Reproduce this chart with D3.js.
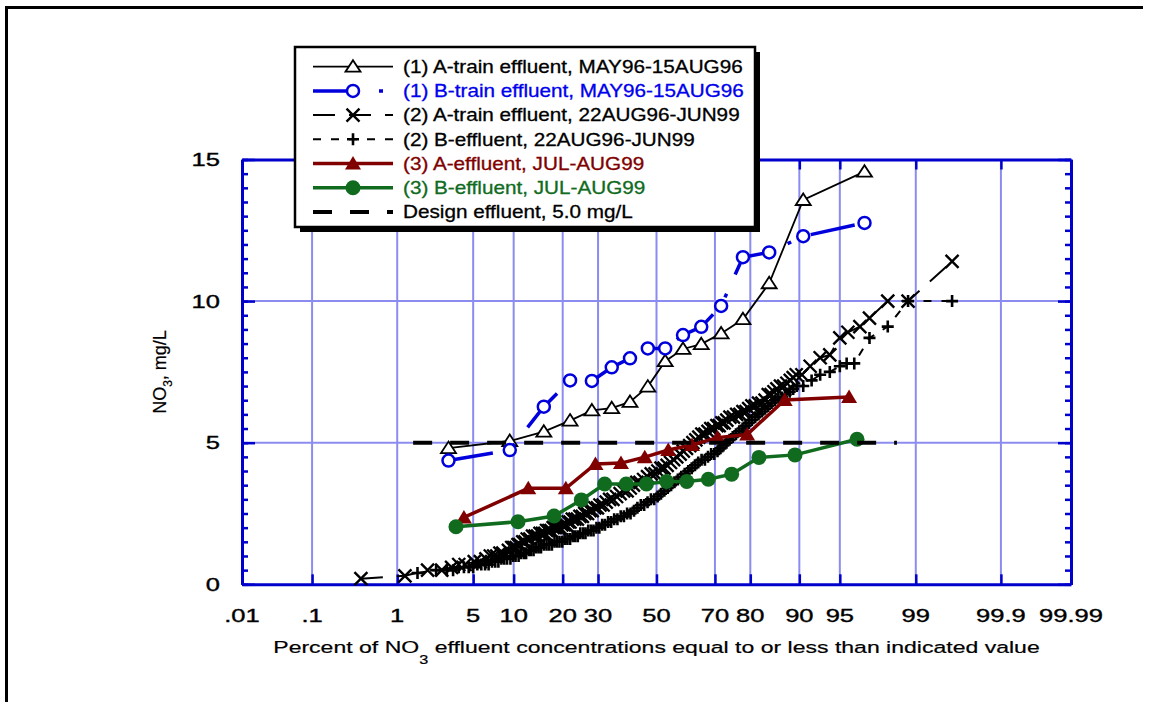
<!DOCTYPE html>
<html>
<head>
<meta charset="utf-8">
<script src="https://cdn.jsdelivr.net/npm/d3@7"></script>
<style>
  body { margin: 0; background: #fff; }
  text { font-family: "Liberation Sans", Arial, sans-serif; }
</style>
</head>
<body>
<div id="chart"></div>
<script>
// ---- data ----
var xTickValues = [0.01, 0.1, 1, 5, 10, 20, 30, 50, 70, 80, 90, 95, 99, 99.9, 99.99];
var xTickLabels = [".01", ".1", "1", "5", "10", "20", "30", "50", "70", "80", "90", "95", "99", "99.9", "99.99"];
var yTickValues = [0, 5, 10, 15];

// (1) A-train effluent, MAY96-15AUG96
var aTrain1Pct = [3.1, 9.4, 15.6, 21.9, 28.1, 34.4, 40.6, 46.9, 53.1, 59.4, 65.6, 71.9, 78.1, 84.4, 90.6, 96.9];
var aTrain1Val = [4.81, 5.06, 5.39, 5.78, 6.14, 6.22, 6.44, 6.98, 7.88, 8.31, 8.48, 8.86, 9.36, 10.63, 13.57, 14.57];

// (1) B-train effluent, MAY96-15AUG96
var bTrain1Pct = [3.1, 9.4, 15.6, 21.9, 28.1, 34.4, 40.6, 46.9, 53.1, 59.4, 65.6, 71.9, 78.1, 84.4, 90.6, 96.9];
var bTrain1Val = [4.37, 4.74, 6.27, 7.2, 7.18, 7.66, 7.98, 8.33, 8.33, 8.8, 9.09, 9.83, 11.55, 11.72, 12.29, 12.76];

// (2) A-train effluent, 22AUG96-JUN99
var aTrain2Pct = [
  0.4, 1.2, 2.0, 2.7, 3.3, 3.8, 4.3, 5.1, 5.7, 6.3,
  6.8, 7.2, 7.6, 8.0, 8.4, 9.2, 9.7, 10.0, 10.4, 10.7,
  11.0, 11.5, 11.9, 12.3, 12.8, 13.3, 13.8, 14.3, 14.8, 15.3,
  15.8, 16.2, 16.7, 17.2, 17.7, 18.2, 18.8, 19.3, 19.8, 20.4,
  20.9, 21.4, 21.9, 22.5, 23.2, 23.9, 24.6, 25.3, 26.0, 26.8,
  27.5, 28.2, 29.0, 29.8, 30.6, 31.6, 32.6, 33.7, 34.8, 36.0,
  37.2, 38.4, 39.6, 40.7, 41.8, 43.0, 44.1, 45.4, 46.8, 48.1,
  49.5, 50.5, 51.6, 52.7, 53.8, 55.0, 56.1, 57.2, 58.4, 59.5,
  60.6, 61.7, 62.8, 63.8, 64.8, 65.8, 66.8, 67.8, 68.7, 69.6,
  70.6, 71.3, 72.1, 72.8, 73.6, 74.5, 75.5, 76.4, 77.3, 78.1,
  78.9, 79.6, 80.4, 81.2, 82.0, 82.8, 83.5, 84.2, 84.8, 85.4,
  86.0, 86.7, 87.3, 87.9, 88.5, 89.0, 89.5, 90.4, 91.6, 92.9,
  94.0, 95.0, 95.7, 96.6, 97.2, 98.1, 98.8, 99.6];
var aTrain2Val = [
  0.2, 0.3, 0.5, 0.5, 0.6, 0.7, 0.7, 0.8, 0.8, 0.9,
  1.0, 1.0, 1.0, 1.1, 1.1, 1.2, 1.3, 1.3, 1.3, 1.4,
  1.4, 1.5, 1.5, 1.6, 1.6, 1.7, 1.7, 1.7, 1.8, 1.8,
  1.8, 1.9, 1.9, 1.9, 2.0, 2.0, 2.0, 2.0, 2.1, 2.1,
  2.1, 2.2, 2.2, 2.3, 2.3, 2.3, 2.4, 2.4, 2.5, 2.5,
  2.6, 2.6, 2.7, 2.7, 2.8, 2.8, 2.9, 3.0, 3.0, 3.1,
  3.2, 3.3, 3.3, 3.4, 3.5, 3.6, 3.6, 3.7, 3.8, 3.9,
  3.9, 4.0, 4.1, 4.1, 4.2, 4.3, 4.4, 4.5, 4.6, 4.7,
  4.8, 4.9, 5.0, 5.1, 5.2, 5.3, 5.3, 5.4, 5.5, 5.5,
  5.6, 5.6, 5.7, 5.7, 5.8, 5.9, 5.9, 6.0, 6.0, 6.1,
  6.1, 6.2, 6.3, 6.3, 6.4, 6.4, 6.5, 6.7, 6.7, 6.8,
  6.9, 7.0, 7.0, 7.1, 7.2, 7.3, 7.4, 7.4, 7.7, 8.0,
  8.1, 8.7, 8.9, 9.1, 9.4, 10.0, 10.0, 11.4];

// (2) B-effluent, 22AUG96-JUN99
var bEff2Pct = [
  1.6, 2.4, 3.0, 3.4, 3.8, 4.2, 4.6, 5.0, 5.4, 5.8,
  6.2, 6.6, 7.0, 7.4, 7.8, 8.2, 8.6, 9.0, 9.5, 9.9,
  10.3, 10.8, 11.2, 11.7, 12.1, 12.6, 13.0, 13.5, 14.0, 14.5,
  15.0, 15.6, 16.2, 16.8, 17.4, 18.0, 18.6, 19.2, 19.9, 20.5,
  21.2, 21.9, 22.6, 23.3, 24.0, 24.7, 25.5, 26.2, 27.0, 27.8,
  28.6, 29.5, 30.4, 31.3, 32.2, 33.2, 34.2, 35.2, 36.3, 37.4,
  38.5, 39.6, 40.8, 42.0, 43.2, 44.4, 45.6, 46.8, 48.0, 49.2,
  50.4, 51.6, 52.8, 54.0, 55.2, 56.4, 57.6, 58.8, 60.0, 61.2,
  62.4, 63.5, 64.6, 65.7, 66.8, 67.8, 68.8, 69.8, 70.8, 71.7,
  72.6, 73.5, 74.4, 75.3, 76.2, 77.1, 78.0, 78.8, 79.6, 80.4,
  81.2, 82.0, 82.8, 83.5, 84.2, 84.9, 85.6, 86.3, 87.0, 87.7,
  88.4, 89.0, 89.6, 90.6, 91.8, 92.9, 94.0, 95.0, 95.6, 96.2,
  97.2, 98.1, 98.8, 99.6];
var bEff2Val = [
  0.4, 0.5, 0.5, 0.5, 0.6, 0.6, 0.6, 0.6, 0.7, 0.7,
  0.7, 0.7, 0.8, 0.8, 0.8, 0.9, 0.9, 0.9, 0.9, 1.0,
  1.0, 1.0, 1.1, 1.1, 1.1, 1.2, 1.2, 1.2, 1.3, 1.3,
  1.3, 1.4, 1.4, 1.4, 1.4, 1.5, 1.5, 1.5, 1.5, 1.6,
  1.6, 1.6, 1.7, 1.7, 1.7, 1.8, 1.8, 1.8, 1.9, 1.9,
  1.9, 2.0, 2.0, 2.1, 2.1, 2.2, 2.2, 2.3, 2.3, 2.4,
  2.4, 2.5, 2.5, 2.6, 2.7, 2.8, 2.8, 2.9, 3.0, 3.0,
  3.1, 3.2, 3.3, 3.4, 3.5, 3.6, 3.7, 3.8, 3.9, 4.0,
  4.1, 4.2, 4.3, 4.4, 4.4, 4.5, 4.6, 4.6, 4.7, 4.8,
  4.9, 5.0, 5.1, 5.2, 5.3, 5.4, 5.5, 5.6, 5.7, 5.8,
  5.9, 6.0, 6.1, 6.2, 6.3, 6.4, 6.5, 6.6, 6.6, 6.7,
  6.8, 6.9, 7.0, 7.0, 7.2, 7.4, 7.5, 7.7, 7.8, 7.8,
  8.7, 9.1, 10.0, 10.0];

// (3) A-effluent, JUL-AUG99
var aEff3Pct = [4.2, 12.5, 20.8, 29.2, 37.5, 45.8, 54.2, 62.5, 70.8, 79.2, 87.5, 95.8];
var aEff3Val = [2.36, 3.39, 3.39, 4.25, 4.28, 4.49, 4.74, 4.92, 5.18, 5.29, 6.51, 6.61];

// (3) B-effluent, JUL-AUG99
var bEff3Pct = [3.6, 10.7, 17.9, 25, 32.1, 39.3, 46.4, 53.6, 60.7, 67.9, 75, 82.1, 89.3, 96.4];
var bEff3Val = [2.03, 2.21, 2.41, 2.98, 3.54, 3.54, 3.54, 3.63, 3.63, 3.71, 3.89, 4.48, 4.57, 5.12];

// Design effluent, 5.0 mg/L
var designPct = [1.45, 98.45];
var designVal = [5.0, 5.0];

var legendLabels = [
  "(1) A-train effluent, MAY96-15AUG96",
  "(1) B-train effluent, MAY96-15AUG96",
  "(2) A-train effluent, 22AUG96-JUN99",
  "(2) B-effluent, 22AUG96-JUN99",
  "(3) A-effluent, JUL-AUG99",
  "(3) B-effluent, JUL-AUG99",
  "Design effluent, 5.0 mg/L"
];

// ---- layout ----
var svgWidth = 1151;
var svgHeight = 702;
var plot = { left: 242, right: 1071, top: 159.5, bottom: 584.3 };
var axisBlue = "#0000cc";
var gridBlue = "#8c8cf0";
var blue = "#0000dd";
var darkRed = "#800000";
var green = "#106b1e";

// inverse normal cdf (Acklam) for the probability axis
function probit(p) {
  var a = [-3.969683028665376e+01, 2.209460984245205e+02, -2.759285104469687e+02, 1.383577518672690e+02, -3.066479806614716e+01, 2.506628277459239e+00];
  var b = [-5.447609879822406e+01, 1.615858368580409e+02, -1.556989798598866e+02, 6.680131188771972e+01, -1.328068155288572e+01];
  var c = [-7.784894002430293e-03, -3.223964580411365e-01, -2.400758277161838e+00, -2.549732539343734e+00, 4.374664141464968e+00, 2.938163982698783e+00];
  var d = [7.784695709041462e-03, 3.224671290700398e-01, 2.445134137142996e+00, 3.754408661907416e+00];
  var plow = 0.02425, q, r;
  if (p < plow) {
    q = Math.sqrt(-2 * Math.log(p));
    return (((((c[0] * q + c[1]) * q + c[2]) * q + c[3]) * q + c[4]) * q + c[5]) / ((((d[0] * q + d[1]) * q + d[2]) * q + d[3]) * q + 1);
  } else if (p <= 1 - plow) {
    q = p - 0.5; r = q * q;
    return (((((a[0] * r + a[1]) * r + a[2]) * r + a[3]) * r + a[4]) * r + a[5]) * q / (((((b[0] * r + b[1]) * r + b[2]) * r + b[3]) * r + b[4]) * r + 1);
  }
  q = Math.sqrt(-2 * Math.log(1 - p));
  return -(((((c[0] * q + c[1]) * q + c[2]) * q + c[3]) * q + c[4]) * q + c[5]) / ((((d[0] * q + d[1]) * q + d[2]) * q + d[3]) * q + 1);
}

var zScale = d3.scaleLinear()
  .domain([probit(0.0001), probit(0.9999)])
  .range([plot.left, plot.right]);
function xPos(pct) { return zScale(probit(pct / 100)); }

var yScale = d3.scaleLinear()
  .domain([0, 15])
  .range([plot.bottom, plot.top]);

var svg = d3.select("#chart")
  .append("svg")
  .attr("width", svgWidth)
  .attr("height", svgHeight);

// page frame (only top and left edges are in view)
svg.append("path")
  .attr("d", "M6.5,702 V7.5 H1143")
  .attr("fill", "none")
  .attr("stroke", "#000")
  .attr("stroke-width", 3);

// grid
var grid = svg.append("g");
grid.selectAll("line.vg")
  .data(xTickValues.slice(1, -1))
  .enter().append("line")
  .attr("x1", d => xPos(d)).attr("x2", d => xPos(d))
  .attr("y1", plot.top).attr("y2", plot.bottom)
  .attr("stroke", gridBlue).attr("stroke-width", 2);
grid.selectAll("line.hg")
  .data(yTickValues.slice(1, -1))
  .enter().append("line")
  .attr("x1", plot.left).attr("x2", plot.right)
  .attr("y1", d => yScale(d)).attr("y2", d => yScale(d))
  .attr("stroke", gridBlue).attr("stroke-width", 2);

// axes: ticks drawn inward on all four sides
var zTicks = xTickValues.map(p => probit(p / 100));
var minorY = d3.range(0, 15.01, 0.5);

function styleAxis(g) {
  g.selectAll("path.domain").attr("stroke", axisBlue).attr("stroke-width", 3);
  g.selectAll(".tick line").attr("stroke", axisBlue).attr("stroke-width", 2.5);
  g.selectAll(".tick text").remove();
}

svg.append("g").attr("transform", `translate(0,${plot.bottom})`)
  .call(d3.axisBottom(zScale).tickValues(zTicks).tickSizeInner(-10).tickSizeOuter(0))
  .call(styleAxis);
svg.append("g").attr("transform", `translate(0,${plot.top})`)
  .call(d3.axisTop(zScale).tickValues(zTicks).tickSizeInner(-10).tickSizeOuter(0))
  .call(styleAxis);
svg.append("g").attr("transform", `translate(${plot.left},0)`)
  .call(d3.axisLeft(yScale).tickValues(minorY).tickSizeInner(-6).tickSizeOuter(0))
  .call(styleAxis);
svg.append("g").attr("transform", `translate(${plot.left},0)`)
  .call(d3.axisLeft(yScale).tickValues(yTickValues).tickSizeInner(-13).tickSizeOuter(0))
  .call(styleAxis);
svg.append("g").attr("transform", `translate(${plot.right},0)`)
  .call(d3.axisRight(yScale).tickValues(minorY).tickSizeInner(-6).tickSizeOuter(0))
  .call(styleAxis);
svg.append("g").attr("transform", `translate(${plot.right},0)`)
  .call(d3.axisRight(yScale).tickValues(yTickValues).tickSizeInner(-13).tickSizeOuter(0))
  .call(styleAxis);

// tick labels (the original type is stretched sideways)
svg.append("g").selectAll("text")
  .data(xTickValues)
  .enter().append("text")
  .attr("transform", d => `translate(${xPos(d)},621.5) scale(1.42,1)`)
  .attr("text-anchor", "middle")
  .attr("font-size", "18px")
  .attr("stroke", "#000").attr("stroke-width", 0.35)
  .text((d, i) => xTickLabels[i]);

svg.append("g").selectAll("text")
  .data(yTickValues)
  .enter().append("text")
  .attr("transform", d => `translate(220,${yScale(d) + 6.5}) scale(1.42,1)`)
  .attr("text-anchor", "end")
  .attr("font-size", "18px")
  .attr("stroke", "#000").attr("stroke-width", 0.35)
  .text(d => d);

// axis titles
var xTitle = svg.append("text")
  .attr("font-size", "17px")
  .attr("text-anchor", "middle")
  .attr("stroke", "#000").attr("stroke-width", 0.2);
xTitle.append("tspan").text("Percent of NO");
xTitle.append("tspan").attr("font-size", "12px").attr("dy", 11).text("3");
xTitle.append("tspan").attr("dy", -11).text(" effluent concentrations equal to or less than indicated value");
var xTitleW = xTitle.node().getComputedTextLength();
xTitle.attr("transform", `translate(656.5,653) scale(${767 / xTitleW},1)`);

var yTitle = svg.append("text")
  .attr("font-size", "18px")
  .attr("text-anchor", "middle")
  .attr("stroke", "#000").attr("stroke-width", 0.2)
  .attr("transform", "translate(166,372) rotate(-90)");
yTitle.append("tspan").text("NO");
yTitle.append("tspan").attr("font-size", "12px").attr("dy", 6).text("3");
yTitle.append("tspan").attr("dy", -6).text(", mg/L");

// ---- series ----
var triPath = "M0,-6.5L7.5,5L-7.5,5Z";
var triFillPath = "M0,-7.5L8,6L-8,6Z";
var crossPath = "M-6.5,-6.5L6.5,6.5M-6.5,6.5L6.5,-6.5";
var plusPath = "M-6,0H6M0,-6V6";

var series = [
  { pct: aTrain2Pct, val: aTrain2Val, color: "#000", width: 2, dash: "22,14", marker: "cross" },
  { pct: bEff2Pct, val: bEff2Val, color: "#000", width: 2, dash: "8,10", marker: "plus" },
  { pct: aTrain1Pct, val: aTrain1Val, color: "#000", width: 1.8, dash: null, marker: "tri" },
  { pct: bTrain1Pct, val: bTrain1Val, color: blue, width: 3.5, dash: "45,21,4,21", marker: "circle" },
  { pct: aEff3Pct, val: aEff3Val, color: darkRed, width: 3.5, dash: null, marker: "triFill" },
  { pct: bEff3Pct, val: bEff3Val, color: green, width: 3.5, dash: null, marker: "dot" },
  { pct: designPct, val: designVal, color: "#000", width: 4, dash: "19,18", marker: null }
];

var line = d3.line()
  .x(d => xPos(d[0]))
  .y(d => yScale(d[1]));

function drawMarker(g, type, color) {
  if (type === "tri") {
    g.append("path").attr("d", triPath).attr("fill", "#fff").attr("stroke", color).attr("stroke-width", 1.8);
  } else if (type === "circle") {
    g.append("circle").attr("r", 6).attr("fill", "#fff").attr("stroke", color).attr("stroke-width", 2.5);
  } else if (type === "cross") {
    g.append("path").attr("d", crossPath).attr("stroke", color).attr("stroke-width", 2.4).attr("fill", "none");
  } else if (type === "plus") {
    g.append("path").attr("d", plusPath).attr("stroke", color).attr("stroke-width", 2.6).attr("fill", "none");
  } else if (type === "triFill") {
    g.append("path").attr("d", triFillPath).attr("fill", color);
  } else if (type === "dot") {
    g.append("circle").attr("r", 7.5).attr("fill", color);
  }
}

series.forEach(function(s) {
  var pts = s.pct.map((p, i) => [p, s.val[i]]);
  var g = svg.append("g");
  g.append("path")
    .datum(pts)
    .attr("d", line)
    .attr("fill", "none")
    .attr("stroke", s.color)
    .attr("stroke-width", s.width)
    .attr("stroke-dasharray", s.dash);
  if (s.marker) {
    g.selectAll("g.mk")
      .data(pts)
      .enter().append("g")
      .attr("transform", d => `translate(${xPos(d[0])},${yScale(d[1])})`)
      .each(function() { drawMarker(d3.select(this), s.marker, s.color); });
  }
});

// ---- legend ----
var legendOrder = [2, 3, 0, 1, 4, 5, 6];
var legendTextColor = ["#000", "#0000ee", "#000", "#000", darkRed, green, "#000"];
var legend = svg.append("g").attr("transform", "translate(295,47)");
legend.append("rect")
  .attr("x", 5).attr("y", 5).attr("width", 460).attr("height", 180)
  .attr("fill", "#000");
legend.append("rect")
  .attr("x", 0).attr("y", 0).attr("width", 460).attr("height", 180)
  .attr("fill", "#fff").attr("stroke", "#000").attr("stroke-width", 2.5);

legendLabels.forEach(function(label, i) {
  var s = series[legendOrder[i]];
  var cy = 19.7 + i * 24.2;
  var row = legend.append("g").attr("transform", `translate(0,${cy})`);
  row.append("line")
    .attr("x1", 18).attr("x2", 98)
    .attr("stroke", s.color)
    .attr("stroke-width", s.width)
    .attr("stroke-dasharray", s.dash);
  if (s.marker) {
    drawMarker(row.append("g").attr("transform", "translate(58,0)"), s.marker, s.color);
  }
  row.append("text")
    .attr("transform", "translate(108,6.3) scale(1.17,1)")
    .attr("font-size", "17.7px")
    .attr("fill", legendTextColor[i])
    .attr("stroke", legendTextColor[i]).attr("stroke-width", 0.3)
    .text(label);
});
</script>
</body>
</html>
